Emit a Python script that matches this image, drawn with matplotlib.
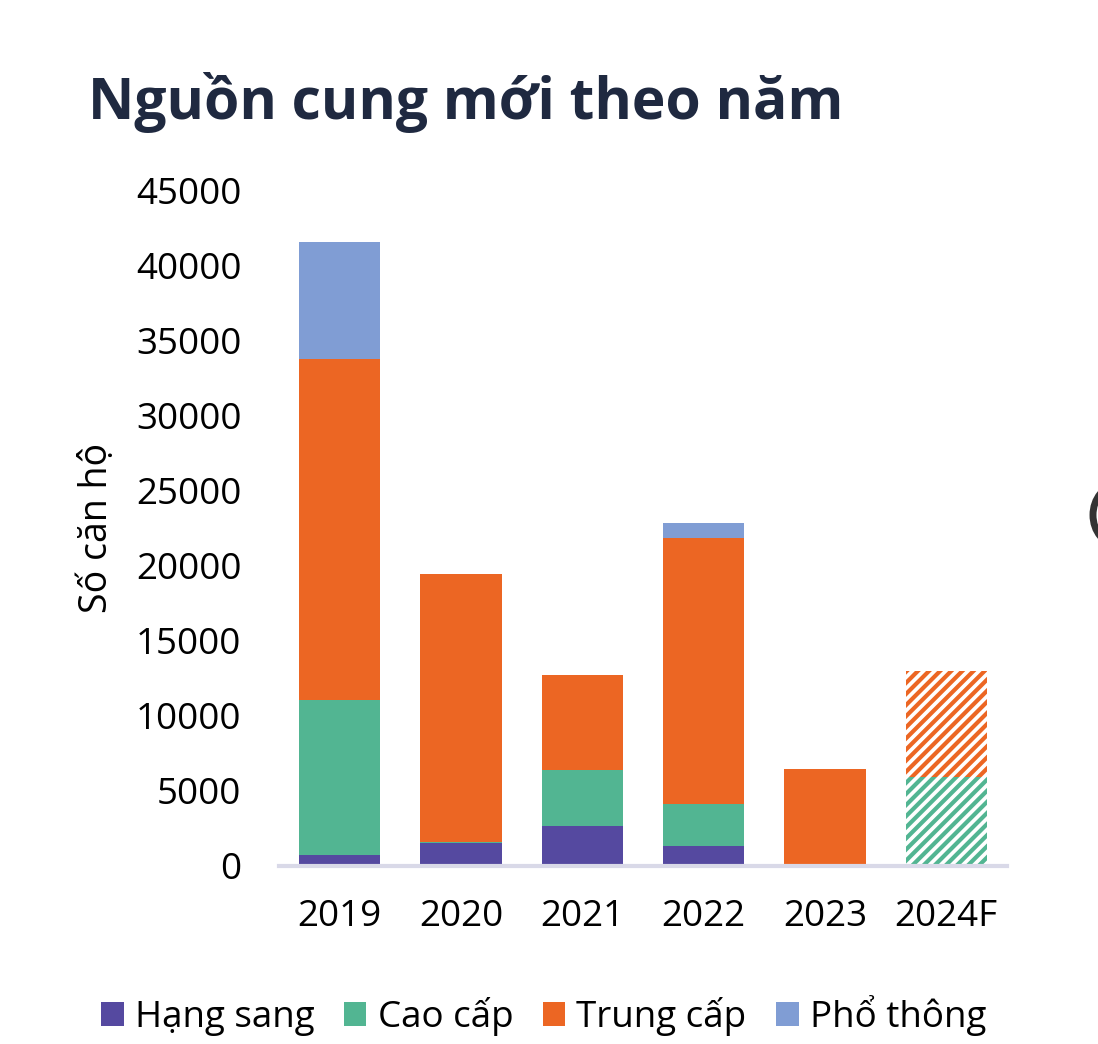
import matplotlib
matplotlib.use("Agg")
import matplotlib.pyplot as plt
import numpy as np
from matplotlib.patches import Ellipse

plt.rcParams['font.family'] = ['Open Sans', 'DejaVu Sans']
plt.rcParams['hatch.linewidth'] = 3.0

years = ["2019", "2020", "2021", "2022", "2023", "2024F"]
series_names = ["Hạng sang", "Cao cấp", "Trung cấp", "Phổ thông"]
hang_sang = [750, 1500, 2650, 1330, 0, 120]
cao_cap = [10300, 100, 3750, 2800, 0, 5800]
trung_cap = [22700, 17850, 6320, 17710, 6450, 7080]
pho_thong = [7800, 0, 0, 1000, 0, 0]
forecast = [False, False, False, False, False, True]
yticks = [0, 5000, 10000, 15000, 20000, 25000, 30000, 35000, 40000, 45000]

colors = ["#5549a0", "#52b592", "#ec6623", "#809dd4"]

fig = plt.figure(figsize=(10.98, 10.44), dpi=100)
ax = fig.add_axes([0.254, 0.1705, 0.663, 0.6475])

x = np.arange(len(years))
bottom = np.zeros(len(years))
for name, vals, col in zip(series_names, [hang_sang, cao_cap, trung_cap, pho_thong], colors):
    vals = np.array(vals, dtype=float)
    for i in range(len(years)):
        if vals[i] <= 0:
            continue
        if forecast[i] and name != "Hạng sang":
            ax.bar(x[i], vals[i], bottom=bottom[i], width=0.67, facecolor="white",
                   edgecolor=col, hatch="///", linewidth=0)
        else:
            ax.bar(x[i], vals[i], bottom=bottom[i], width=0.67, color=col, linewidth=0)
    bottom += vals
    ax.bar([np.nan], [0], color=col, label=name)

ax.set_xlim(-0.5, 5.5)
ax.set_ylim(0, 45000)
ax.set_xticks(x)
ax.set_xticklabels(years, fontsize=26.5)
ax.set_yticks(yticks)
ax.set_yticklabels([str(t) for t in yticks], fontsize=26.5)
ax.tick_params(length=0)
ax.tick_params(axis='y', pad=27)
ax.tick_params(axis='x', pad=24)
for s in ["top", "right", "left"]:
    ax.spines[s].set_visible(False)
ax.spines["bottom"].set_color("#d9d9e8")
ax.spines["bottom"].set_linewidth(3)
ax.set_ylabel("Số căn hộ", fontsize=27, labelpad=14)

fig.text(0.080, 0.902, "Nguồn cung mới theo năm", fontsize=41, fontweight="bold",
         color="#1f2940", ha="left", va="center")

leg = fig.legend(loc="center", bbox_to_anchor=(0.495, 0.027), ncol=4, frameon=False,
                 fontsize=26.5, handlelength=0.62, handleheight=0.62, handletextpad=0.3,
                 columnspacing=0.8)

fig.add_artist(Ellipse((1118, 1044 - 515), 50, 60, transform=None, fill=False,
                       edgecolor="#333333", linewidth=5))

fig.savefig("out.png", dpi=100)
